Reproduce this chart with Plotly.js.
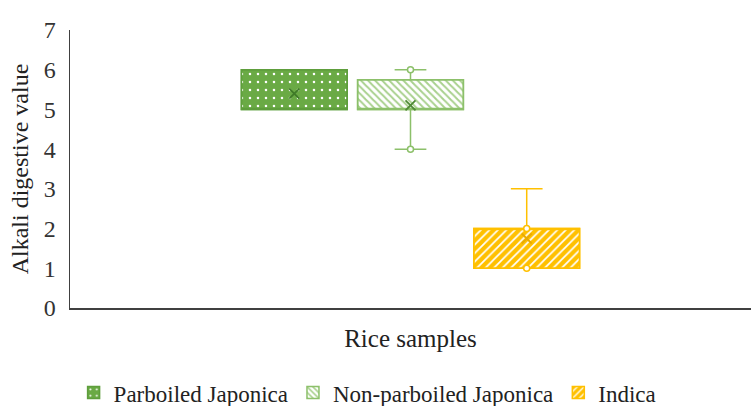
<!DOCTYPE html>
<html>
<head>
<meta charset="utf-8">
<script src="https://cdn.plot.ly/plotly-3.0.1.min.js"></script>
<style>html,body{margin:0;padding:0;background:#fff}#chart{width:751px;height:406px}</style>
</head>
<body>
<div id="chart"></div>
<script>
// ---- data ----
const groups = ['Parboiled Japonica', 'Non-parboiled Japonica', 'Indica'];
const q1 = [5, 5, 1];
const medians = [5, 5, 2];
const q3 = [6, 5.75, 2];
const lowWhisker = [5, 4, 1];
const highWhisker = [6, 6, 3];
const means = [5.4, 5.1, 1.75];
const pointGroups = [1, 1, 2, 2];
const pointValues = [4, 6, 1, 2];
const yTicks = [0, 1, 2, 3, 4, 5, 6, 7];

// ---- styles ----
const fillBg = ['#6AAA45', '#FFFFFF', '#FFC000'];
const fillFg = ['#FFFFFF', '#A9D18E', '#FFFFFF'];
const shapes = ['.', '\\', '/'];
const psize = [8, 5, 6];
const solid = [0.08, 0.4, 0.28];
const border = ['#5E9E3C', '#8CC06A', '#FFC000'];
const meanCol = ['#3F7A28', '#4F8A35', '#E8AA00'];
const font = '"Liberation Serif", serif';
const W = 0.91;

const traces = [];
groups.forEach((g, i) => {
  traces.push({
    type: 'bar', name: g, x: [i + 1], y: [q3[i] - q1[i]], base: [q1[i]], width: W,
    marker: {color: fillBg[i], line: {color: border[i], width: 1.5},
      pattern: {shape: shapes[i], fgcolor: fillFg[i], bgcolor: fillBg[i], size: psize[i], solidity: solid[i]}},
    hoverinfo: 'skip'
  });
});
groups.forEach((g, i) => {
  traces.push({
    type: 'box', name: g, x: [i + 1], q1: [q1[i]], median: [medians[i]], q3: [q3[i]],
    lowerfence: [lowWhisker[i]], upperfence: [highWhisker[i]], width: W, whiskerwidth: 0.3,
    fillcolor: 'rgba(0,0,0,0)', line: {color: border[i], width: 1.5}, boxpoints: false,
    showlegend: false, hoverinfo: 'skip'
  });
});
traces.push({
  type: 'scatter', mode: 'markers', x: pointGroups.map(p => p + 1), y: pointValues,
  marker: {symbol: 'circle', size: 6, color: '#FFFFFF',
    line: {color: pointGroups.map(p => border[p]), width: 1.5}},
  showlegend: false, hoverinfo: 'skip'
});
traces.push({
  type: 'scatter', mode: 'markers', x: groups.map((g, i) => i + 1), y: means,
  marker: {symbol: 'x-thin-open', size: 10, color: meanCol, line: {color: meanCol, width: 1.8}},
  showlegend: false, hoverinfo: 'skip'
});

const layout = {
  width: 751, height: 406,
  margin: {l: 70, r: 0, t: 30, b: 98},
  paper_bgcolor: '#fff', plot_bgcolor: '#fff',
  font: {family: font},
  barmode: 'overlay', boxmode: 'overlay',
  showlegend: true,
  legend: {orientation: 'h', xref: 'container', yref: 'container', x: 0.098, xanchor: 'left',
    y: 0.033, yanchor: 'middle', font: {family: font, size: 23, color: '#222'}, traceorder: 'normal'},
  xaxis: {range: [-0.93, 4.93], showgrid: false, zeroline: false, showticklabels: false, ticks: '',
    showline: true, linecolor: '#404040', linewidth: 1.5,
    title: {text: 'Rice samples', font: {family: font, size: 25, color: '#222'}, standoff: 21}},
  yaxis: {range: [0, 7], tickvals: yTicks, ticktext: yTicks.map(String), showgrid: false, zeroline: false,
    ticks: '', ticklabelstandoff: 8, showline: true, linecolor: '#404040', linewidth: 1.5,
    tickfont: {family: font, size: 24, color: '#333'},
    title: {text: 'Alkali digestive value', font: {family: font, size: 24, color: '#222'}, standoff: 8}}
};
Plotly.newPlot('chart', traces, layout, {displayModeBar: false, staticPlot: true});
</script>
</body>
</html>
